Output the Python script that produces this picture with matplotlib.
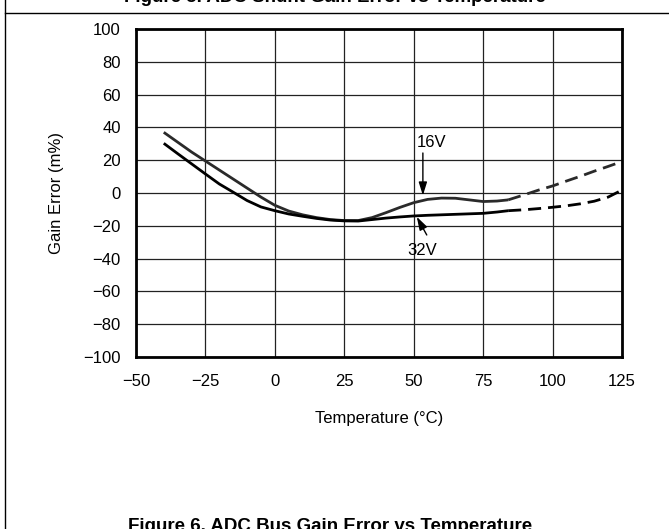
import matplotlib
matplotlib.use("Agg")
import matplotlib.pyplot as plt
from matplotlib.lines import Line2D

plt.rcParams['font.family'] = ['Liberation Sans', 'DejaVu Sans']

# ---- data ----
temp_solid = [-40, -35, -30, -25, -20, -15, -10, -5, 0, 5, 10, 15, 20, 25, 30,
              35, 40, 45, 50, 55, 60, 65, 70, 75, 80, 84]
gain_16v_solid = [37.0, 31.0, 25.0, 19.5, 14.0, 8.5, 3.0, -2.5, -7.5, -11.0, -13.3,
                  -15.0, -16.2, -16.8, -16.8, -15.0, -12.0, -8.8, -5.9, -3.9, -3.1,
                  -3.2, -4.2, -5.2, -4.9, -4.2]
gain_32v_solid = [30.3, 24.0, 17.8, 11.6, 5.5, 0.5, -4.6, -8.5, -10.8, -12.8, -14.2,
                  -15.5, -16.5, -17.0, -17.1, -16.2, -15.3, -14.6, -14.0, -13.6,
                  -13.3, -13.0, -12.7, -12.4, -11.6, -10.8]
temp_dash = [84, 90, 95, 100, 105, 110, 115, 120, 125]
gain_16v_dash = [-4.2, -1.0, 1.8, 4.3, 7.3, 10.2, 13.3, 16.2, 19.2]
gain_32v_dash = [-10.8, -10.2, -9.5, -8.7, -7.8, -6.6, -5.0, -2.5, 1.8]

x_ticks = [-50, -25, 0, 25, 50, 75, 100, 125]
y_ticks = [-100, -80, -60, -40, -20, 0, 20, 40, 60, 80, 100]

W, H = 669, 529
fig = plt.figure(figsize=(W / 100, H / 100), dpi=100)
ax = fig.add_axes([136 / W, 1 - 357 / H, 486 / W, 328 / H])

ax.set_xlim(-50, 125)
ax.set_ylim(-100, 100)
ax.set_xticks(x_ticks)
ax.set_yticks(y_ticks)
ax.grid(True, color='#222222', linewidth=0.9)
ax.set_axisbelow(True)
ax.tick_params(length=0, labelsize=12, pad=11)
ax.tick_params(axis='x', pad=12)
for s in ax.spines.values():
    s.set_linewidth(2.0)
    s.set_color('black')

ax.plot(temp_solid, gain_16v_solid, color='#2a2a2a', lw=2.0, solid_capstyle='butt')
ax.plot(temp_solid, gain_32v_solid, color='black', lw=2.0, solid_capstyle='butt')
ax.plot(temp_dash, gain_16v_dash, color='#2a2a2a', lw=2.0, dashes=(4.7, 2.5))
ax.plot(temp_dash, gain_32v_dash, color='black', lw=2.0, dashes=(4.7, 2.5))

arrow = dict(arrowstyle='-|>,head_length=0.8,head_width=0.25', color='black',
             lw=1.0, shrinkA=0, shrinkB=0)
ax.text(56.6, 30.5, '16V', fontsize=12, ha='center', va='center')
ax.annotate('', xy=(53.3, -1.5), xytext=(53.3, 24.4), arrowprops=arrow)
ax.text(53.1, -34.8, '32V', fontsize=12, ha='center', va='center')
ax.annotate('', xy=(51.1, -14.5), xytext=(54.7, -25.6), arrowprops=arrow)

ax.set_xlabel('Temperature (°C)', fontsize=12, labelpad=16)
ax.set_ylabel('Gain Error (m%)', fontsize=12, labelpad=14)

# page frame lines
fig.add_artist(Line2D([5 / W, 5 / W], [0, 1], transform=fig.transFigure,
                      color='black', lw=1.0))
fig.add_artist(Line2D([5 / W, 1], [1 - 12.5 / H, 1 - 12.5 / H],
                      transform=fig.transFigure, color='black', lw=1.0))

fig.text(335 / W, 1 - 1.5 / H, 'Figure 5. ADC Shunt Gain Error vs Temperature',
         fontsize=13.5, fontweight='bold', ha='center', va='baseline')
fig.text(330 / W, 1 - 531 / H, 'Figure 6. ADC Bus Gain Error vs Temperature',
         fontsize=13.5, fontweight='bold', ha='center', va='baseline')

fig.savefig('out.png', dpi=100)
